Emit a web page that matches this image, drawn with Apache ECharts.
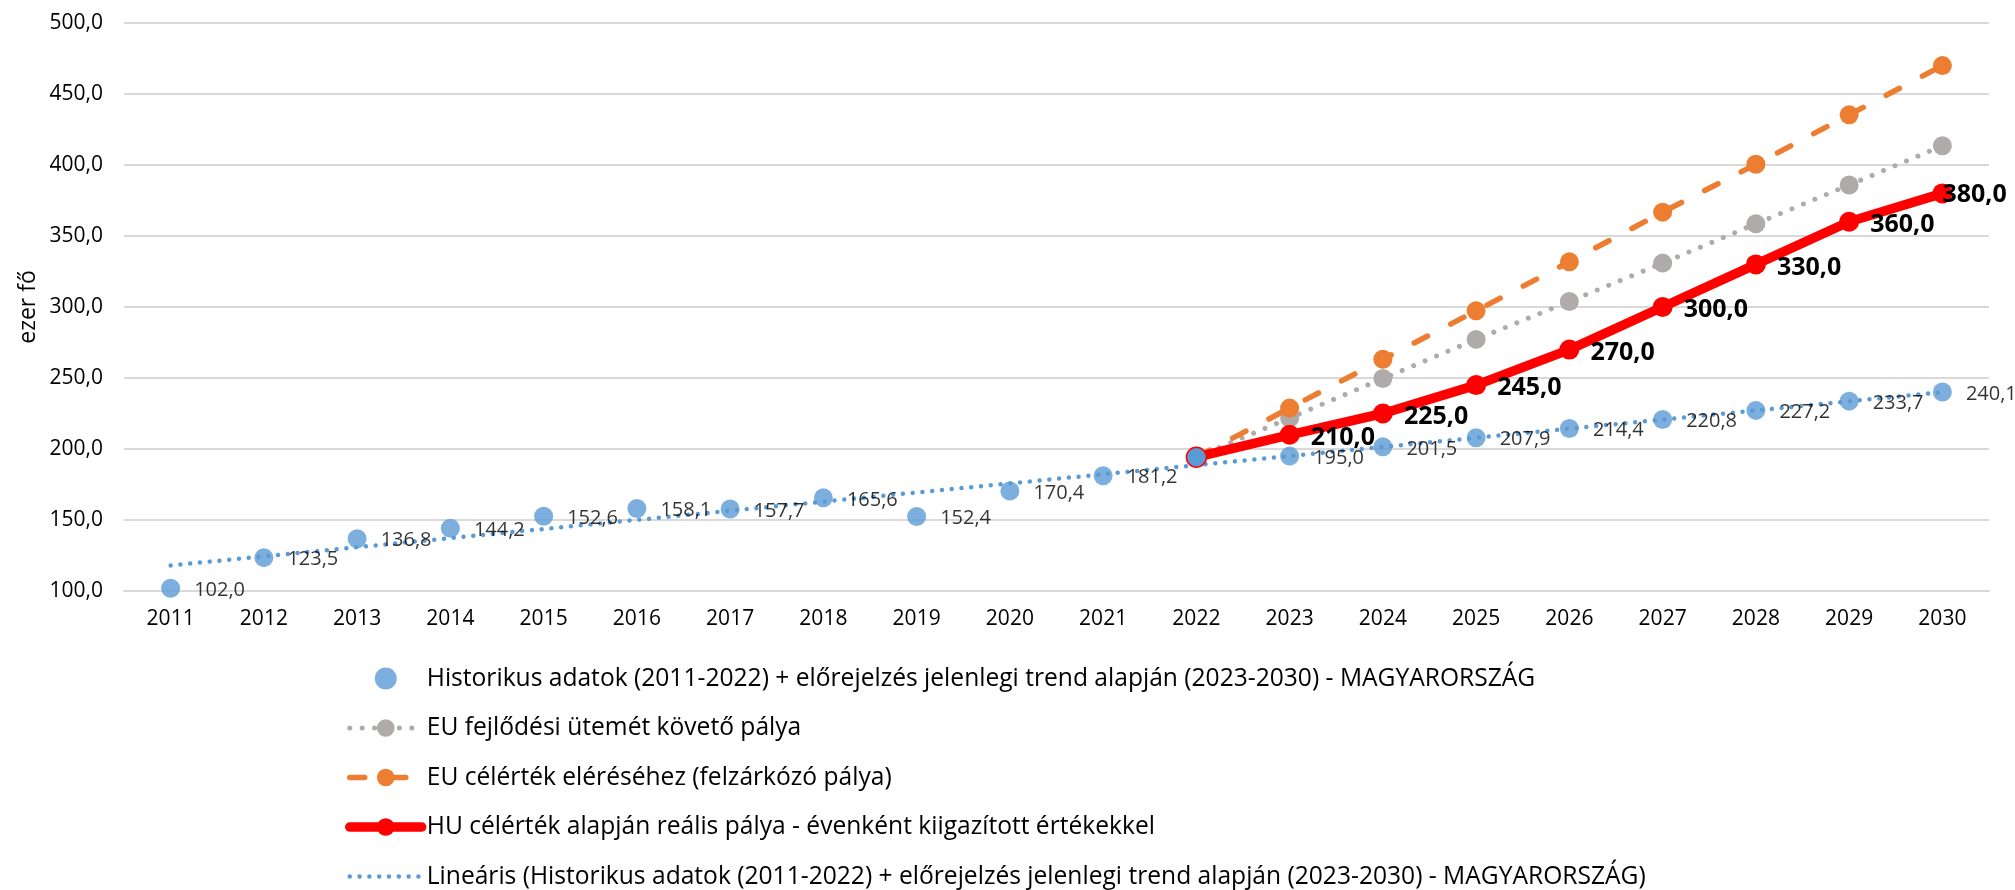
<!DOCTYPE html>
<html>
<head>
<meta charset="utf-8">
<title>ezer fő – pályák 2011-2030</title>
<script src="https://cdn.jsdelivr.net/npm/echarts@6/dist/echarts.min.js"></script>
<style>
  html, body { margin: 0; padding: 0; background: #fff; }
  #chart { width: 2015px; height: 890px; }
</style>
</head>
<body>
<div id="chart"></div>
<script>
// Years on the category axis
const years = ['2011', '2012', '2013', '2014', '2015', '2016', '2017', '2018', '2019', '2020',
               '2021', '2022', '2023', '2024', '2025', '2026', '2027', '2028', '2029', '2030'];

// Historical data 2011-2022 + forecast on current trend 2023-2030 (Hungary)
const historical = [102.0, 123.5, 136.8, 144.2, 152.6, 158.1, 157.7, 165.6, 152.4, 170.4,
                    181.2, 194.2, 195.0, 201.5, 207.9, 214.4, 220.8, 227.2, 233.7, 240.1];

// EU pace path (from 2022)
const euPace = [null, null, null, null, null, null, null, null, null, null,
                null, 194.2, 221.8, 249.6, 277.2, 303.9, 330.9, 358.6, 385.9, 413.5];

// EU target catch-up path (from 2022)
const euTarget = [null, null, null, null, null, null, null, null, null, null,
                  null, 194.2, 228.8, 263.2, 297.3, 331.8, 366.8, 400.5, 435.3, 470.0];

// HU target based realistic path
const huRealistic = [null, null, null, null, null, null, null, null, null, null,
                     null, 194.2, 210.0, 225.0, 245.0, 270.0, 300.0, 330.0, 360.0, 380.0];

// Linear trend line: start (2011) and end (2030) values
const trendLine = [118.0, null, null, null, null, null, null, null, null, null,
                   null, null, null, null, null, null, null, null, null, 240.0];

const yTicks = { min: 100, max: 500, step: 50 };

const names = {
  hist: 'Historikus adatok (2011-2022) + előrejelzés jelenlegi trend alapján (2023-2030) - MAGYARORSZÁG',
  pace: 'EU fejlődési ütemét követő pálya',
  target: 'EU célérték eléréséhez (felzárkózó pálya)',
  hu: 'HU célérték alapján reális pálya - évenként kiigazított értékekkel',
  trend: 'Lineáris (Historikus adatok (2011-2022) + előrejelzés jelenlegi trend alapján (2023-2030) - MAGYARORSZÁG)'
};

const FONT = '"Open Sans", "Noto Sans", sans-serif';
const BLUE = '#5B9BD5', GREY = '#AFABAB', ORANGE = '#ED7D31', RED = '#FF0000';
const huFmt = v => v.toFixed(1).replace('.', ',');

// 2022 is the shared starting point: no label on the historical series there
const histData = historical.map((v, i) =>
  years[i] === '2022' ? { value: v, label: { show: false } } : v);

// Pace / target paths start at 2022 without a visible marker
const hideStart = arr => arr.map((v, i) =>
  years[i] === '2022' ? { value: v, symbol: 'none' } : v);

const huData = huRealistic.map((v, i) => {
  if (years[i] === '2022') {
    return { value: v, itemStyle: { color: BLUE, borderColor: RED, borderWidth: 1.5 }, label: { show: false } };
  }
  if (years[i] === '2030') {
    return { value: v, label: { offset: [-21, 1] } };
  }
  return v;
});

const chart = echarts.init(document.getElementById('chart'), null, { renderer: 'canvas' });

chart.setOption({
  animation: false,
  backgroundColor: '#fff',
  textStyle: { fontFamily: FONT },
  grid: { left: 124, right: 26, top: 23, bottom: 299, containLabel: false },
  xAxis: {
    type: 'category',
    data: years,
    boundaryGap: true,
    axisLine: { show: true, lineStyle: { color: '#D9D9D9', width: 2 } },
    axisTick: { show: false },
    axisLabel: { color: '#000', fontSize: 21, fontFamily: FONT, margin: 18 },
    splitLine: { show: false }
  },
  yAxis: {
    type: 'value',
    min: yTicks.min,
    max: yTicks.max,
    interval: yTicks.step,
    axisLine: { show: false },
    axisTick: { show: false },
    axisLabel: { color: '#000', fontSize: 21, fontFamily: FONT, margin: 21, formatter: huFmt },
    splitLine: { show: true, lineStyle: { color: '#D9D9D9', width: 2 } }
  },
  graphic: [{
    type: 'text',
    x: 28,
    y: 307,
    rotation: Math.PI / 2,
    style: {
      text: 'ezer fő',
      fill: '#000',
      fontSize: 23,
      fontFamily: FONT,
      textAlign: 'center',
      textVerticalAlign: 'middle'
    }
  }],
  legend: {
    orient: 'vertical',
    left: 345,
    top: 666,
    height: 300,
    itemWidth: 72,
    itemHeight: 22,
    itemGap: 24.5,
    padding: 0,
    textStyle: { color: '#000', fontSize: 24.6, fontFamily: FONT, lineHeight: 22 },
    lineStyle: { width: 'inherit' },
    data: [
      { name: names.hist },
      { name: names.pace },
      { name: names.target },
      { name: names.hu },
      { name: names.trend, itemStyle: { opacity: 0 } }
    ]
  },
  series: [
    {
      name: names.trend,
      type: 'line',
      data: trendLine,
      connectNulls: true,
      symbol: 'none',
      silent: true,
      z: 1,
      lineStyle: { color: BLUE, width: 4.5, type: [0.01, 9.8], cap: 'round' },
      itemStyle: { color: BLUE }
    },
    {
      name: names.hist,
      type: 'scatter',
      data: histData,
      symbol: 'circle',
      symbolSize: 19,
      z: 2,
      itemStyle: { color: BLUE },
      label: {
        show: true,
        position: 'right',
        distance: 14,
        offset: [0, 2],
        color: '#000',
        fontSize: 20,
        fontFamily: FONT,
        formatter: p => huFmt(p.value)
      }
    },
    {
      name: names.pace,
      type: 'line',
      data: hideStart(euPace),
      symbol: 'circle',
      symbolSize: 19,
      showAllSymbol: true,
      z: 3,
      lineStyle: { color: GREY, width: 5, type: [0.01, 12.4], cap: 'round' },
      itemStyle: { color: GREY }
    },
    {
      name: names.target,
      type: 'line',
      data: hideStart(euTarget),
      symbol: 'circle',
      symbolSize: 19,
      showAllSymbol: true,
      z: 4,
      lineStyle: { color: ORANGE, width: 5.5, type: [15, 26], cap: 'round' },
      itemStyle: { color: ORANGE }
    },
    {
      name: names.hu,
      type: 'line',
      data: huData,
      symbol: 'circle',
      symbolSize: 20,
      showAllSymbol: true,
      z: 5,
      lineStyle: { color: RED, width: 9.5, cap: 'round', join: 'round' },
      itemStyle: { color: RED },
      label: {
        show: true,
        position: 'right',
        distance: 11,
        offset: [0, 3],
        color: '#000',
        fontSize: 25,
        fontWeight: 'bold',
        fontFamily: FONT,
        formatter: p => huFmt(p.value)
      }
    }
  ]
});
</script>
</body>
</html>
